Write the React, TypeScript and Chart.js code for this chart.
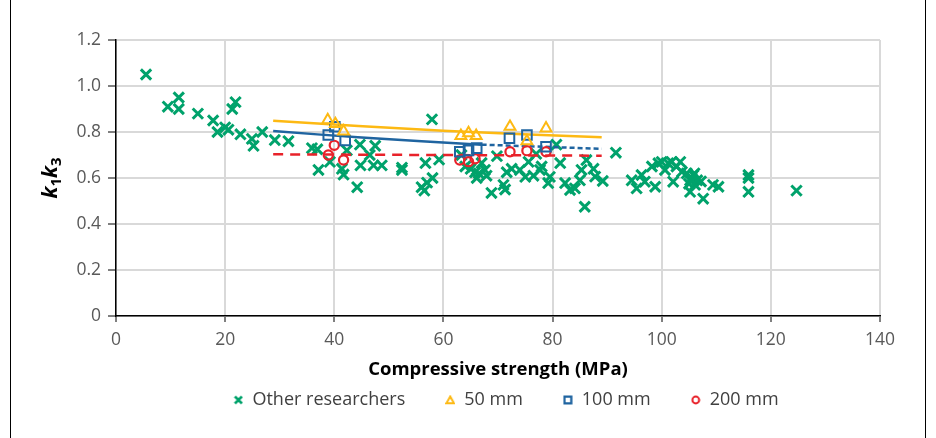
import React, { useEffect, useRef } from 'react';
import { Chart, registerables } from 'chart.js';

Chart.register(...registerables);

// ---- Data ----
const otherX = [
  5.5, 9.5, 11.5, 11.5, 15.0, 17.8, 18.6, 20.0, 20.6, 21.3, 21.9, 22.8, 24.9, 25.2, 26.8, 29.1, 31.6,
  35.9, 36.9, 37.1, 39.2, 41.4, 41.7, 42.3, 44.8, 44.2, 44.7, 46.5, 47.5, 47.2, 48.7, 52.4, 52.4,
  57.9, 56.7, 59.2, 56.0, 57.0, 58.0, 56.5, 63.3, 64.0, 65.8, 67.0, 67.6, 66.1, 68.8, 69.8, 67.9,
  71.0, 71.3, 71.6, 72.5, 74.0, 75.0, 75.6, 76.5, 77.0, 77.7, 78.0, 79.2, 79.5, 80.7, 81.4, 82.3,
  83.2, 84.1, 85.0, 85.3, 85.9, 86.2, 87.5, 87.8, 89.2, 91.6, 94.5, 95.4, 96.3, 96.9, 98.2, 98.8,
  99.4, 100.0, 100.6, 101.2, 101.8, 102.1, 102.7, 103.4, 103.7, 104.6, 105.2, 105.8, 106.1, 105.2,
  107.6, 109.4, 110.4, 107.2, 105.5, 106.0, 105.0, 106.5, 115.9, 115.9, 115.9, 124.7, 65.0, 66.5,
];
const otherY = [
  1.05, 0.91, 0.95, 0.90, 0.88, 0.85, 0.80, 0.82, 0.81, 0.90, 0.93, 0.79, 0.77, 0.74, 0.80, 0.765, 0.76,
  0.73, 0.725, 0.635, 0.67, 0.64, 0.615, 0.72, 0.655, 0.56, 0.745, 0.70, 0.74, 0.655, 0.655, 0.645, 0.635,
  0.855, 0.665, 0.68, 0.56, 0.58, 0.60, 0.545, 0.70, 0.65, 0.625, 0.665, 0.635, 0.60, 0.535, 0.695, 0.61,
  0.57, 0.55, 0.625, 0.64, 0.635, 0.605, 0.67, 0.61, 0.705, 0.635, 0.65, 0.578, 0.605, 0.745, 0.665, 0.578,
  0.548, 0.555, 0.59, 0.635, 0.475, 0.678, 0.64, 0.606, 0.587, 0.71, 0.59, 0.555, 0.613, 0.584, 0.65, 0.562,
  0.664, 0.67, 0.635, 0.664, 0.67, 0.584, 0.65, 0.67, 0.627, 0.62, 0.59, 0.613, 0.57, 0.54,
  0.51, 0.57, 0.562, 0.585, 0.60, 0.62, 0.575, 0.59, 0.613, 0.60, 0.54, 0.545, 0.64, 0.62,
];

const mm50X = [38.8, 40.2, 41.7, 63.2, 64.6, 66.0, 72.2, 75.3, 78.8];
const mm50Y = [0.852, 0.835, 0.803, 0.783, 0.795, 0.783, 0.823, 0.76, 0.816];
const mm100X = [38.9, 40.1, 42.0, 63.0, 64.6, 66.1, 72.1, 75.3, 78.8];
const mm100Y = [0.787, 0.823, 0.763, 0.714, 0.72, 0.73, 0.773, 0.787, 0.736];
const mm200X = [38.9, 40.0, 41.7, 63.0, 64.6, 65.8, 72.2, 75.3, 78.8];
const mm200Y = [0.70, 0.742, 0.678, 0.678, 0.671, 0.684, 0.714, 0.719, 0.714];

// trend lines
const trend50X = [28.8, 60, 89];
const trend50Y = [0.849, 0.805, 0.777];
const trend100SolidX = [28.8, 45, 67];
const trend100SolidY = [0.804, 0.776, 0.745];
const trend100DashX = [67, 89];
const trend100DashY = [0.745, 0.727];
const trend200X = [28.8, 89];
const trend200Y = [0.703, 0.697];

const xTickValues = [0, 20, 40, 60, 80, 100, 120, 140];
const xTickLabels = ['0', '20', '40', '60', '80', '100', '120', '140'];
const yTickLabels = ['0', '0.2', '0.4', '0.6', '0.8', '1.0', '1.2'];

const legendNames = ['Other researchers', '50 mm', '100 mm', '200 mm'];
const xTitle = 'Compressive strength (MPa)';

const GREEN = '#00A26B';
const YELLOW = '#FDB913';
const BLUE = '#1F64A0';
const RED = '#E8222A';
const FONT = "'Open Sans', 'Noto Sans', sans-serif";

const pts = (xs: number[], ys: number[]) => xs.map((x, i) => ({ x, y: ys[i] }));

function legendMarker(kind: string, color: string): HTMLCanvasElement {
  const c = document.createElement('canvas');
  c.width = 10;
  c.height = 10;
  const g = c.getContext('2d')!;
  g.strokeStyle = color;
  g.beginPath();
  if (kind === 'x') {
    g.lineWidth = 2.5;
    g.moveTo(1.5, 1.5);
    g.lineTo(8.5, 8.5);
    g.moveTo(8.5, 1.5);
    g.lineTo(1.5, 8.5);
  } else if (kind === 'tri') {
    g.lineWidth = 2;
    g.moveTo(5, 1.5);
    g.lineTo(8.8, 8.3);
    g.lineTo(1.2, 8.3);
    g.closePath();
  } else if (kind === 'sq') {
    g.lineWidth = 2.2;
    g.rect(1.6, 1.6, 6.8, 6.8);
  } else {
    g.lineWidth = 2;
    g.arc(5, 5, 3.4, 0, Math.PI * 2);
  }
  g.stroke();
  return c;
}

export default function App() {
  const ref = useRef<HTMLCanvasElement>(null);

  useEffect(() => {
    if (!ref.current) return;
    Chart.defaults.font.family = FONT;

    const markers = [
      legendMarker('x', GREEN),
      legendMarker('tri', YELLOW),
      legendMarker('sq', BLUE),
      legendMarker('circ', RED),
    ];

    const framePlugin = {
      id: 'frame',
      beforeDraw(chart: any) {
        const ctx = chart.ctx;
        ctx.save();
        ctx.fillStyle = '#fff';
        ctx.fillRect(0, 0, chart.width, chart.height);
        ctx.strokeStyle = '#000';
        ctx.lineWidth = 1;
        ctx.beginPath();
        ctx.moveTo(10.5, 0);
        ctx.lineTo(10.5, chart.height);
        ctx.moveTo(925.5, 0);
        ctx.lineTo(925.5, chart.height);
        ctx.stroke();
        ctx.restore();
      },
    };

    const yTitlePlugin = {
      id: 'yTitle',
      afterDraw(chart: any) {
        const ctx = chart.ctx;
        const ca = chart.chartArea;
        const parts: [string, string, number][] = [
          ['k', `italic bold 21px ${FONT}`, 0],
          ['1', `bold 15px ${FONT}`, 4],
          ['k', `italic bold 21px ${FONT}`, 0],
          ['3', `bold 15px ${FONT}`, 4],
        ];
        ctx.save();
        let total = 0;
        const widths = parts.map(([t, f]) => {
          ctx.font = f;
          const w = ctx.measureText(t).width;
          total += w;
          return w;
        });
        ctx.translate(57, (ca.top + ca.bottom) / 2);
        ctx.rotate(-Math.PI / 2);
        ctx.fillStyle = '#000';
        ctx.textBaseline = 'alphabetic';
        ctx.textAlign = 'left';
        let x = -total / 2;
        parts.forEach(([t, f, dy], i) => {
          ctx.font = f;
          ctx.fillText(t, x, dy);
          x += widths[i];
        });
        ctx.restore();
      },
    };

    const legendPos = {
      id: 'legendPos',
      afterLayout(chart: any) {
        const lg = chart.legend;
        if (!lg) return;
        const pad = lg.options.labels.padding;
        lg.top = 400 - pad - 9;
        lg.bottom = chart.height;
        lg.height = lg.bottom - lg.top;
        lg.left = 506 - 600;
        lg.right = 506 + 600;
        lg.width = 1200;
      },
    };

    const chart = new Chart(ref.current, {
      type: 'scatter',
      data: {
        datasets: [
          {
            label: legendNames[0],
            data: pts(otherX, otherY),
            pointStyle: 'crossRot',
            pointRadius: 7.3,
            borderColor: GREEN,
            backgroundColor: GREEN,
            borderWidth: 3,
            order: 10,
          },
          {
            label: legendNames[1],
            data: pts(mm50X, mm50Y),
            pointStyle: 'triangle',
            pointRadius: 6.3,
            borderColor: YELLOW,
            backgroundColor: 'rgba(0,0,0,0)',
            borderWidth: 2,
            order: 1,
          },
          {
            label: legendNames[2],
            data: pts(mm100X, mm100Y),
            pointStyle: 'rect',
            pointRadius: 6.8,
            borderColor: BLUE,
            backgroundColor: 'rgba(0,0,0,0)',
            borderWidth: 2,
            order: 2,
          },
          {
            label: legendNames[3],
            data: pts(mm200X, mm200Y),
            pointStyle: 'circle',
            pointRadius: 4.6,
            borderColor: RED,
            backgroundColor: 'rgba(0,0,0,0)',
            borderWidth: 2.2,
            order: 3,
          },
          {
            label: 'trend50',
            data: pts(trend50X, trend50Y),
            showLine: true,
            pointRadius: 0,
            borderColor: YELLOW,
            borderWidth: 2.5,
            tension: 0.3,
            order: 5,
          },
          {
            label: 'trend100',
            data: pts(trend100SolidX, trend100SolidY),
            showLine: true,
            pointRadius: 0,
            borderColor: BLUE,
            borderWidth: 2.5,
            tension: 0.3,
            order: 5,
          },
          {
            label: 'trend100b',
            data: pts(trend100DashX, trend100DashY),
            showLine: true,
            pointRadius: 0,
            borderColor: BLUE,
            borderWidth: 2.5,
            borderDash: [5, 3],
            order: 5,
          },
          {
            label: 'trend200',
            data: pts(trend200X, trend200Y),
            showLine: true,
            pointRadius: 0,
            borderColor: RED,
            borderWidth: 2.5,
            borderDash: [10, 7],
            order: 5,
          },
        ] as any,
      },
      options: {
        responsive: false,
        animation: false,
        devicePixelRatio: 1,
        layout: { padding: { left: 0, right: 56, top: 40, bottom: 0 } },
        plugins: {
          tooltip: { enabled: false },
          legend: {
            position: 'bottom',
            maxHeight: 30,
            labels: {
              usePointStyle: true,
              boxWidth: 10,
              boxHeight: 8,
              padding: 40,
              color: '#404040',
              font: { size: 18, family: FONT },
              generateLabels: (ch: any) => {
                const items = (Chart.defaults.plugins.legend.labels as any).generateLabels(ch);
                return items
                  .filter((it: any) => it.datasetIndex < 4)
                  .sort((a: any, b: any) => a.datasetIndex - b.datasetIndex)
                  .map((it: any) => ({ ...it, pointStyle: markers[it.datasetIndex] }));
              },
            },
          } as any,
        },
        scales: {
          x: {
            type: 'linear',
            min: 0,
            max: 140,
            afterBuildTicks: (s: any) => {
              s.ticks = xTickValues.map((v) => ({ value: v }));
            },
            ticks: {
              color: '#595959',
              font: { size: 17.5, family: FONT },
              padding: 8,
              maxRotation: 0,
              callback: (v: any) => xTickLabels[xTickValues.indexOf(Number(v))] ?? '',
            },
            grid: { color: '#d9d9d9', lineWidth: 2, tickColor: '#000', tickLength: 6, tickWidth: 1 },
            border: { color: '#000', width: 1.5 },
            title: {
              display: true,
              text: xTitle,
              color: '#000',
              font: { size: 18.5, weight: 'bold', family: FONT },
              padding: { top: 0, bottom: 27 },
            },
            afterFit: (s: any) => {
              s.height = 92;
            },
          },
          y: {
            type: 'linear',
            min: 0,
            max: 1.2,
            ticks: {
              stepSize: 0.2,
              color: '#595959',
              font: { size: 17.5, family: FONT },
              padding: 7,
              callback: (v: any) => yTickLabels[Math.round(Number(v) / 0.2)] ?? '',
            },
            grid: { color: '#d9d9d9', lineWidth: 2, tickColor: '#000', tickLength: 8, tickWidth: 1 },
            border: { color: '#000', width: 1.5 },
            afterFit: (s: any) => {
              s.width = 116;
            },
          },
        },
      } as any,
      plugins: [framePlugin, yTitlePlugin, legendPos],
    });

    return () => chart.destroy();
  }, []);

  return (
    <div style={{ position: 'absolute', left: 0, top: 0, width: 936, height: 438, background: '#fff' }}>
      <canvas ref={ref} width={936} height={438} style={{ display: 'block' }} />
    </div>
  );
}
